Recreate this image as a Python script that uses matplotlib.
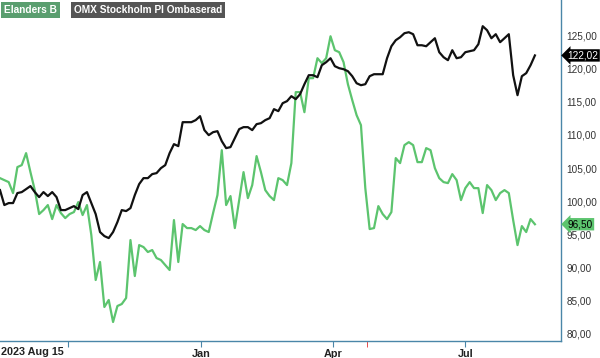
import matplotlib
matplotlib.use("Agg")
import matplotlib.pyplot as plt
import matplotlib.transforms as mtransforms
import pandas as pd

# data (one value every 3 calendar days)
start_date = "2023-08-15"
omx_rebased = [
    101.66, 99.40, 99.70, 99.70, 101.21, 101.36, 101.81, 102.27, 101.36, 100.60,
    101.36, 100.76, 101.36, 100.60, 98.64, 98.64, 98.94, 99.24, 98.79, 100.91,
    101.36, 99.70, 98.04, 95.32, 94.71, 94.41, 95.32, 96.83, 98.64, 98.49,
    98.94, 100.91, 102.57, 103.47, 103.47, 104.08, 104.23, 104.98, 105.44, 107.25,
    108.61, 108.31, 111.93, 111.93, 111.93, 112.24, 112.84, 110.73, 109.97, 110.42,
    110.57, 109.06, 108.01, 108.16, 109.52, 110.88, 111.18, 111.18, 110.73, 111.63,
    111.78, 112.24, 112.54, 113.90, 113.60, 114.80, 115.11, 115.86, 115.41, 116.16,
    117.67, 119.03, 119.03, 118.73, 120.54, 121.00, 121.60, 120.39, 120.09, 119.94,
    119.64, 118.88, 117.82, 117.52, 117.67, 118.88, 119.18, 119.18, 119.18, 121.60,
    123.41, 124.32, 124.77, 125.38, 125.53, 125.23, 123.56, 123.56, 123.41, 124.02,
    124.62, 122.51, 121.75, 121.30, 122.81, 121.60, 121.75, 122.51, 122.66, 122.81,
    123.72, 126.44, 125.83, 124.62, 125.23, 124.02, 124.62, 125.23, 119.03, 116.01,
    118.88, 119.34, 120.54, 122.02,
]
elanders = [
    103.47, 103.17, 102.87, 101.21, 105.14, 105.44, 107.25, 104.38, 101.66, 98.04,
    98.64, 99.40, 97.28, 99.40, 98.19, 97.43, 98.04, 98.34, 99.85, 97.89,
    99.40, 94.86, 88.07, 90.79, 83.99, 85.05, 81.72, 84.14, 84.44, 85.35,
    94.11, 88.67, 93.35, 93.05, 92.30, 92.60, 91.39, 91.09, 90.33, 89.58,
    97.13, 90.79, 96.53, 95.92, 95.92, 95.62, 96.22, 95.62, 95.32, 98.19,
    100.91, 107.70, 99.40, 100.76, 95.92, 100.15, 104.38, 100.45, 102.42, 106.80,
    104.38, 101.66, 100.76, 100.15, 103.47, 103.17, 102.42, 105.74, 116.47, 116.47,
    113.44, 118.58, 118.58, 121.60, 120.85, 121.60, 124.92, 122.81, 122.51, 121.00,
    117.67, 115.26, 112.99, 111.48, 101.96, 95.77, 95.92, 99.24, 98.04, 97.28,
    98.34, 106.50, 105.74, 108.46, 108.91, 108.46, 105.89, 105.89, 108.01, 107.70,
    104.98, 103.47, 102.87, 102.72, 104.08, 103.17, 100.15, 101.96, 102.87, 101.96,
    101.96, 98.19, 102.42, 101.66, 100.15, 101.21, 101.66, 101.21, 97.13, 93.35,
    96.22, 95.32, 97.28, 96.50,
]
dates = pd.date_range(start_date, periods=len(elanders), freq="3D")

tick_dates = ["2023-10-01", "2024-01-01", "2024-04-01", "2024-07-01"]
tick_labels = ["", "Jan", "Apr", "Jul"]
event_date = "2024-04-24"
yticks = [80, 85, 90, 95, 100, 105, 110, 115, 120, 125]

green = "#5cc46e"
axis_col = "#4a86a8"

plt.rcParams["font.family"] = ["Liberation Sans", "DejaVu Sans"]

fig = plt.figure(figsize=(6, 3.58), dpi=100)
ax = fig.add_axes([0, 0.0475, 0.935, 0.9525])

ax.plot(dates, elanders, color=green, lw=1.6)
ax.plot(dates, omx_rebased, color="#111111", lw=1.6)

ax.set_xlim(pd.Timestamp("2023-08-15"), pd.Timestamp("2024-09-05"))
ax.set_ylim(78.85, 130.4)

for s in ["top", "left"]:
    ax.spines[s].set_visible(False)
for s in ["right", "bottom"]:
    ax.spines[s].set_color(axis_col)
    ax.spines[s].set_linewidth(1)

ax.yaxis.tick_right()
ax.set_yticks(yticks)
ax.set_yticklabels([f"{v:.2f}".replace(".", ",") for v in yticks])
ax.tick_params(axis="y", length=0, pad=4, labelsize=7.2, labelcolor="#333333")

ax.set_xticks(pd.to_datetime(tick_dates))
ax.set_xticklabels(tick_labels)
ax.tick_params(axis="x", length=4, color=axis_col, pad=1.5, labelsize=7.8)
for lab in ax.get_xticklabels():
    lab.set_fontweight("bold")
    lab.set_color("#222222")
ax.set_xticks([pd.Timestamp(event_date)], minor=True)
ax.tick_params(axis="x", which="minor", length=4, color="#e03030")

fig.text(0.001, 0.004, "2023 Aug 15", fontsize=7.8, fontweight="bold",
         color="#222222", ha="left", va="bottom")

# legend boxes
fig.text(0.006, 0.972, "Elanders B", fontsize=7.3, fontweight="bold", color="white",
         ha="left", va="center",
         bbox=dict(boxstyle="square,pad=0.3", fc="#5a9e6f", ec="none"))
fig.text(0.123, 0.972, "OMX Stockholm PI Ombaserad", fontsize=7.3, fontweight="bold",
         color="white", ha="left", va="center",
         bbox=dict(boxstyle="square,pad=0.3", fc="#555555", ec="none"))

# end value tags
trans = mtransforms.blended_transform_factory(ax.transAxes, ax.transData)
ax.text(1.012, omx_rebased[-1], f"{omx_rebased[-1]:.2f}".replace(".", ","),
        transform=trans, fontsize=7.2, color="white", ha="left", va="center",
        clip_on=False,
        bbox=dict(boxstyle="larrow,pad=0.12", fc="black", ec="none"))
ax.text(1.012, elanders[-1], f"{elanders[-1]:.2f}".replace(".", ","),
        transform=trans, fontsize=7.2, color="black", ha="left", va="center",
        clip_on=False,
        bbox=dict(boxstyle="larrow,pad=0.12", fc=green, ec="none"))

fig.savefig("out.png", dpi=100)
